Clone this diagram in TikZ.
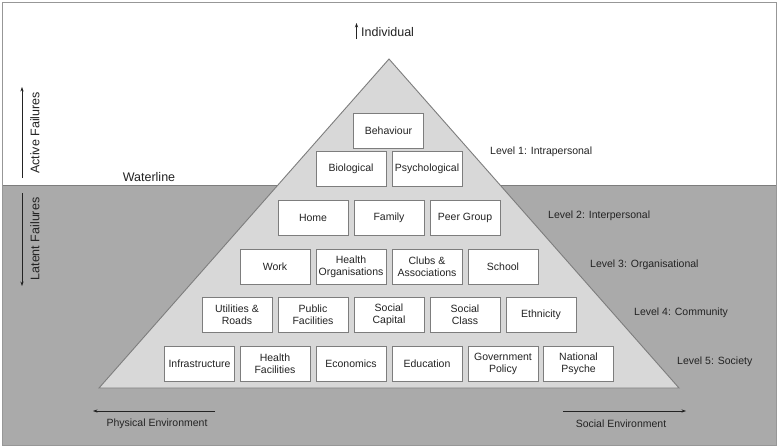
\documentclass[tikz,border=0pt]{standalone}
\usepackage{fontspec}
\setmainfont{Liberation Sans}
\usetikzlibrary{arrows.meta}
\definecolor{deep}{RGB}{170,170,170}
\definecolor{pyr}{RGB}{216,216,216}
\definecolor{edge}{RGB}{125,125,125}
\definecolor{ink}{RGB}{35,35,35}
\tikzset{
  fbox/.style={draw=edge, line width=1pt, fill=white, minimum width=70pt, minimum height=35pt,
    inner sep=0pt, align=center, text=ink, font=\fontsize{10.5}{12}\selectfont},
  lvl/.style={anchor=west, inner sep=0pt, text=ink, font=\fontsize{10.5}{12}\selectfont},
  big/.style={inner sep=0pt, text=ink, font=\fontsize{12.5}{14}\selectfont},
  env/.style={inner sep=0pt, text=ink, font=\fontsize{10.5}{12}\selectfont},
  arr/.style={-{Stealth[length=4.5pt,width=3.2pt]}, line width=0.6pt, draw=ink},
}
\begin{document}
\begin{tikzpicture}[x=1pt,y=-1pt]
\useasboundingbox (0,0) rectangle (778,447);
\fill[white] (0,0) rectangle (778,447);
% lower (under water) region
\fill[deep] (2,185) rectangle (776,445);
\draw[edge, line width=0.9pt] (2,185) -- (776,185);
\draw[edge!80, line width=0.9pt] (2,2) rectangle (776,445);
% pyramid
\coordinate (apex) at (389,59);
\coordinate (bl) at (99,388);
\coordinate (br) at (679,388);
\draw[edge, line width=0.9pt, fill=pyr] (apex) -- (br) -- (bl) -- cycle;
% level 1
\node[fbox] (beh) at (388.5,130.5) {Behaviour};
\node[fbox] (bio) at (351,169) {Biological};
\node[fbox] (psy) at (427,169) {Psychological};
% level 2
\node[fbox] (home) at (313,217.5) {Home};
\node[fbox] (fam) at (389,217.5) {Family};
\node[fbox] (peer) at (465,217.5) {Peer Group};
% level 3
\node[fbox] (work) at (275,266.5) {Work};
\node[fbox] (horg) at (351,266.5) {Health\\Organisations};
\node[fbox] (club) at (427,266.5) {Clubs \&\\Associations};
\node[fbox] (sch) at (503,266.5) {School};
% level 4
\node[fbox] (util) at (237,314.5) {Utilities \&\\Roads};
\node[fbox] (pub) at (313,314.5) {Public\\Facilities};
\node[fbox] (scap) at (389,314.5) {Social\\Capital};
\node[fbox] (scl) at (465,314.5) {Social\\Class};
\node[fbox] (eth) at (541,314.5) {Ethnicity};
% level 5
\node[fbox] (infra) at (199.5,363.5) {Infrastructure};
\node[fbox] (hfac) at (275,363.5) {Health\\Facilities};
\node[fbox] (eco) at (351,363.5) {Economics};
\node[fbox] (edu) at (427,363.5) {Education};
\node[fbox] (gov) at (503,363.5) {Government\\Policy};
\node[fbox] (nat) at (578.5,363.5) {National\\Psyche};
% level labels
\node[lvl] (l1) at (490,152) {Level 1: Intrapersonal};
\node[lvl] (l2) at (548,216) {Level 2: Interpersonal};
\node[lvl] (l3) at (590,265) {Level 3: Organisational};
\node[lvl] (l4) at (634,313) {Level 4: Community};
\node[lvl] (l5) at (677,362) {Level 5: Society};
% individual
\node[big, anchor=west] (ind) at (361,32) {Individual};
\coordinate (indA) at (356.5,39);
\coordinate (indB) at (356.5,23);
\draw[arr] (indA) -- (indB);
% waterline
\node[big] (wl) at (149,177) {Waterline};
% active / latent failures
\node[big, rotate=90] (act) at (35,133) {Active Failures};
\coordinate (actA) at (22,178);
\coordinate (actB) at (22,87);
\draw[arr] (actA) -- (actB);
\node[big, rotate=90] (lat) at (35,239) {Latent Failures};
\coordinate (latA) at (22,193);
\coordinate (latB) at (22,286);
\draw[arr] (latA) -- (latB);
% environments
\coordinate (phyA) at (215,411);
\coordinate (phyB) at (93,411);
\draw[arr] (phyA) -- (phyB);
\node[env] (phy) at (157,424) {Physical Environment};
\coordinate (socA) at (563,411);
\coordinate (socB) at (686,411);
\draw[arr] (socA) -- (socB);
\node[env] (soc) at (621,424) {Social Environment};
\end{tikzpicture}
\end{document}
